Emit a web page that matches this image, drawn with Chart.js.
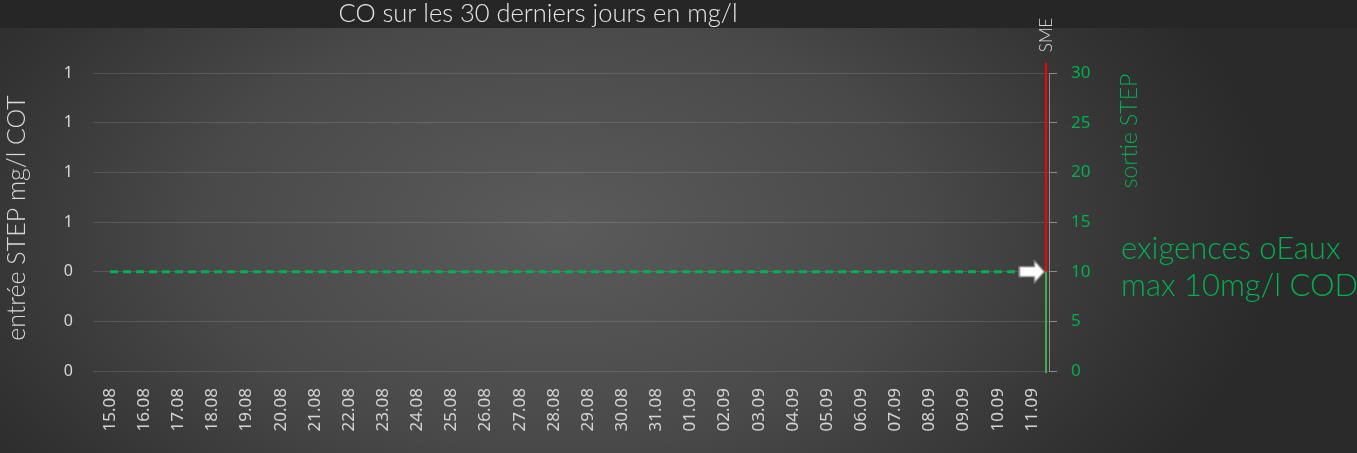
<!DOCTYPE html>
<html><head><meta charset="utf-8">
<script src="https://cdn.jsdelivr.net/npm/chart.js@4.4.1/dist/chart.umd.min.js"></script>
<style>html,body{margin:0;padding:0;background:#262626;overflow:hidden}#wrap{width:1357px;height:453px}</style>
</head><body><div id="wrap"><canvas id="c" width="1357" height="453"></canvas></div>
<script>
const categories = ['15.08','16.08','17.08','18.08','19.08','20.08','21.08','22.08','23.08','24.08','25.08','26.08','27.08','28.08','29.08','30.08','31.08','01.09','02.09','03.09','04.09','05.09','06.09','07.09','08.09','09.09','10.09','11.09'];
const limitValues = [10,10,10,10,10,10,10,10,10,10,10,10,10,10,10,10,10,10,10,10,10,10,10,10,10,10,10,10];
const leftTicks = [0, 0.2, 0.4, 0.6, 0.8, 1.0, 1.2];
const rightTicks = [0, 5, 10, 15, 20, 25, 30];
const gaugeGreen = [0, 10];
const gaugeRed = [10, 31];

const titleText = 'CO sur les 30 derniers jours en mg/l';
const leftTitle = 'entrée STEP mg/l COT';
const rightTitle = 'sortie STEP';
const gaugeLabel = 'SME';
const noteLines = ['exigences oEaux', 'max 10mg/l COD'];

const GREEN = '#00b050';
const LIGHT = "'Lato', 'Open Sans', sans-serif";
const REG = "'Noto Sans', 'Open Sans', sans-serif";

const arrow = document.createElement('canvas');
arrow.width = 27; arrow.height = 26;
(function(){
  const g = arrow.getContext('2d');
  g.beginPath();
  g.moveTo(1, 8); g.lineTo(16, 8); g.lineTo(16, 2); g.lineTo(26, 13);
  g.lineTo(16, 24); g.lineTo(16, 18); g.lineTo(1, 18); g.closePath();
  g.fillStyle = '#ffffff'; g.fill();
  g.strokeStyle = '#8a8a8a'; g.lineWidth = 1.2; g.stroke();
})();
const last = categories.length - 1;

const bgPlugin = {
  id: 'bg',
  beforeDraw(chart) {
    const ctx = chart.ctx;
    ctx.save();
    ctx.fillStyle = '#262626';
    ctx.fillRect(0, 0, chart.width, chart.height);
    ctx.translate(560, 230);
    ctx.scale(1, 0.6);
    const grd = ctx.createRadialGradient(0, 0, 0, 0, 0, 720);
    grd.addColorStop(0, '#5b5b5b');
    grd.addColorStop(0.5, '#494949');
    grd.addColorStop(0.85, '#323232');
    grd.addColorStop(1, '#2a2a2a');
    ctx.fillStyle = grd;
    ctx.fillRect(-560, (28 - 230) / 0.6, 1357, (453 - 28) / 0.6);
    ctx.restore();
  },
  beforeDatasetsDraw(chart) {
    const ctx = chart.ctx, yR = chart.scales.yR, a = chart.chartArea;
    const x = a.right - 3;
    ctx.save();
    ctx.lineWidth = 2;
    ctx.strokeStyle = '#ff0000';
    ctx.beginPath();
    ctx.moveTo(x, yR.getPixelForValue(gaugeRed[1]));
    ctx.lineTo(x, yR.getPixelForValue(gaugeRed[0]));
    ctx.stroke();
    ctx.strokeStyle = '#3fae49';
    ctx.beginPath();
    ctx.moveTo(x, yR.getPixelForValue(gaugeGreen[1]));
    ctx.lineTo(x, yR.getPixelForValue(gaugeGreen[0]) + 2);
    ctx.stroke();
    ctx.restore();
  },
  afterDraw(chart) {
    const ctx = chart.ctx, a = chart.chartArea;
    ctx.save();
    ctx.fillStyle = '#e6e6e6';
    ctx.font = '300 25.5px ' + LIGHT;
    ctx.textAlign = 'center'; ctx.textBaseline = 'middle';
    ctx.fillText(titleText, 538, 14);
    ctx.save();
    ctx.translate(17, 218);
    ctx.rotate(-Math.PI / 2);
    ctx.font = '300 25px ' + LIGHT;
    ctx.fillStyle = '#d9d9d9';
    ctx.fillText(leftTitle, 0, 0);
    ctx.restore();
    ctx.save();
    ctx.translate(1130, 131);
    ctx.rotate(-Math.PI / 2);
    ctx.font = '300 23px ' + LIGHT;
    ctx.fillStyle = GREEN;
    ctx.fillText(rightTitle, 0, 0);
    ctx.restore();
    ctx.save();
    ctx.translate(a.right - 2, 35);
    ctx.rotate(-Math.PI / 2);
    ctx.font = '300 17px ' + LIGHT;
    ctx.fillStyle = '#d9d9d9';
    ctx.fillText(gaugeLabel, 0, 0);
    ctx.restore();
    ctx.font = '300 31px ' + LIGHT;
    ctx.fillStyle = GREEN;
    ctx.textAlign = 'left'; ctx.textBaseline = 'alphabetic';
    ctx.fillText(noteLines[0], 1121, 259);
    ctx.fillText(noteLines[1], 1121, 296);
    ctx.restore();
  }
};

new Chart(document.getElementById('c'), {
  type: 'line',
  data: {
    labels: categories,
    datasets: [{
      label: noteLines[0],
      data: limitValues,
      yAxisID: 'yR',
      borderColor: GREEN,
      borderWidth: 3,
      borderDash: [8, 5],
      fill: false,
      tension: 0,
      pointStyle: ctx => ctx.dataIndex === last ? arrow : false,
      pointRadius: ctx => ctx.dataIndex === last ? 13 : 0,
      pointHoverRadius: 0
    }]
  },
  options: {
    responsive: false,
    animation: false,
    layout: { padding: { top: 73, left: 0, right: 0, bottom: 0 } },
    plugins: { legend: { display: false }, tooltip: { enabled: false }, title: { display: false } },
    scales: {
      x: {
        type: 'category',
        offset: true,
        grid: { display: false },
        border: { display: false },
        ticks: { color: '#d4d4d4', font: { family: REG, size: 17 }, minRotation: 90, maxRotation: 90, padding: 9, autoSkip: false },
        afterFit(s) { s.height = 82; }
      },
      yL: {
        position: 'left',
        min: leftTicks[0], max: leftTicks[leftTicks.length - 1],
        afterBuildTicks(s) { s.ticks = leftTicks.map(v => ({ value: v })); },
        ticks: { color: '#d9d9d9', font: { family: REG, size: 16 }, padding: 20, callback: v => String(Math.round(v)) },
        grid: { color: 'rgba(255,255,255,0.12)', drawTicks: false, lineWidth: 1 },
        border: { display: false },
        afterFit(s) { s.width = 93; }
      },
      yR: {
        position: 'right',
        min: rightTicks[0], max: rightTicks[rightTicks.length - 1],
        afterBuildTicks(s) { s.ticks = rightTicks.map(v => ({ value: v })); },
        ticks: { color: GREEN, font: { family: REG, size: 17 }, padding: 14 },
        grid: { drawOnChartArea: false, tickLength: 8, color: '#8c8c8c' },
        border: { display: true, color: '#8c8c8c' },
        afterFit(s) { s.width = 308; }
      }
    }
  },
  plugins: [bgPlugin]
});
</script>
</body></html>
